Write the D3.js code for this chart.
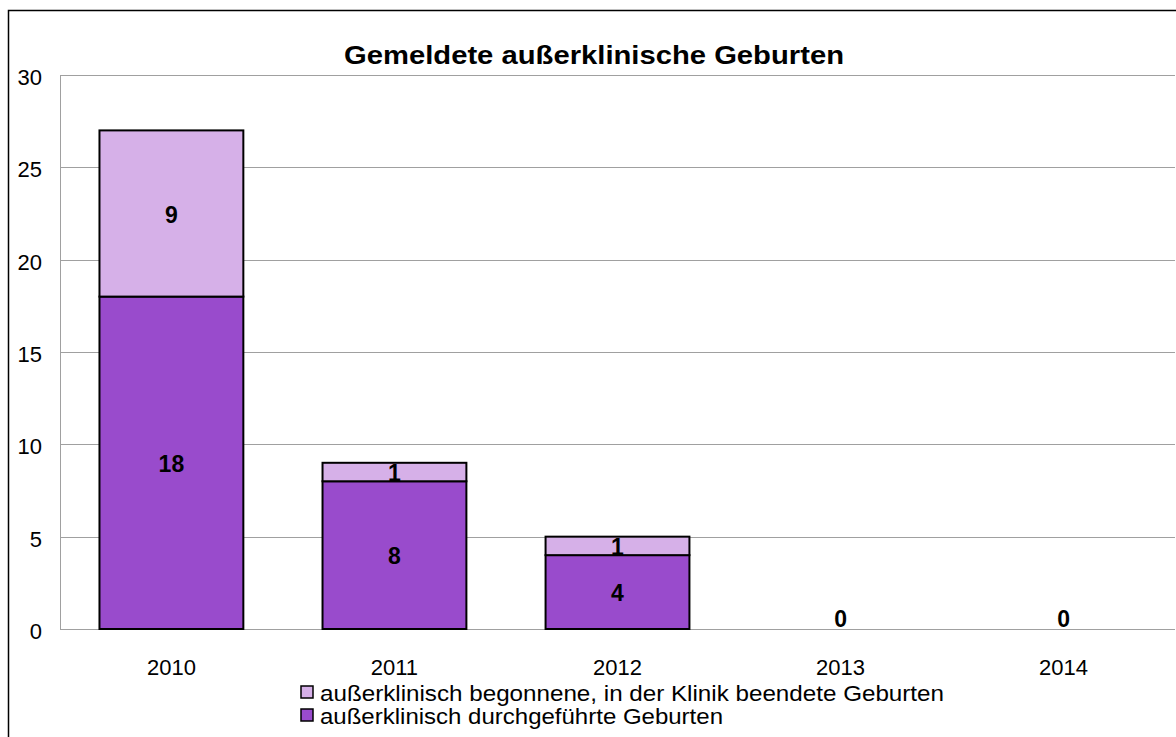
<!DOCTYPE html>
<html>
<head>
<meta charset="utf-8">
<script src="https://cdn.jsdelivr.net/npm/d3@7"></script>
<style>
  body { margin: 0; background: #fff; }
  text { font-family: "Liberation Sans", Arial, sans-serif; }
</style>
</head>
<body>
<div id="chart"></div>
<script>
// data
let years = ["2010", "2011", "2012", "2013", "2014"];
let durchgefuehrt = [18, 8, 4, 0, 0];
let begonnen = [9, 1, 1, 0, 0];
let yTicks = [0, 5, 10, 15, 20, 25, 30];
let seriesNames = [
  "außerklinisch begonnene, in der Klinik beendete Geburten",
  "außerklinisch durchgeführte Geburten"
];

let width = 1176;
let height = 737;
let plotLeft = 60;
let plotRight = 1175;
let plotTop = 75;
let plotBottom = 629;
let darkColor = "#994bcc";
let lightColor = "#d6b0e8";

let svg = d3.select("#chart")
  .append("svg")
  .attr("width", width)
  .attr("height", height);

// outer frame of the chart
svg.append("rect")
  .attr("x", 8.5).attr("y", 10.5)
  .attr("width", width + 20).attr("height", height + 20)
  .attr("fill", "none").attr("stroke", "#000").attr("stroke-width", 1.5);

let x = d3.scaleBand().domain(years).range([plotLeft, plotRight]).paddingInner(0.355).paddingOuter(0.177);
let y = d3.scaleLinear().domain([0, 30]).range([plotBottom, plotTop]);

// gridlines
svg.append("g").selectAll("line")
  .data(yTicks)
  .join("line")
  .attr("x1", plotLeft).attr("x2", plotRight)
  .attr("y1", d => Math.round(y(d)) + 0.5).attr("y2", d => Math.round(y(d)) + 0.5)
  .attr("stroke", "#a0a0a0").attr("stroke-width", 1);

svg.append("line")
  .attr("x1", plotLeft + 0.5).attr("x2", plotLeft + 0.5)
  .attr("y1", plotTop).attr("y2", plotBottom)
  .attr("stroke", "#a0a0a0");

// y tick labels
svg.append("g").selectAll("text")
  .data(yTicks)
  .join("text")
  .attr("x", 42).attr("y", d => y(d) + 10)
  .attr("text-anchor", "end")
  .attr("font-size", 22)
  .text(d => d);

// x labels
svg.append("g").selectAll("text")
  .data(years)
  .join("text")
  .attr("x", d => x(d) + x.bandwidth() / 2)
  .attr("y", 675)
  .attr("text-anchor", "middle")
  .attr("font-size", 22)
  .text(d => d);

let rows = years.map((yr, i) => ({ year: yr, low: durchgefuehrt[i], high: begonnen[i] }));

// bars: dark bottom, light top
let bars = svg.append("g");
bars.selectAll("rect.low")
  .data(rows.filter(d => d.low > 0))
  .join("rect")
  .attr("class", "low")
  .attr("x", d => x(d.year)).attr("width", x.bandwidth())
  .attr("y", d => y(d.low)).attr("height", d => y(0) - y(d.low))
  .attr("fill", darkColor).attr("stroke", "#000").attr("stroke-width", 2);

bars.selectAll("rect.high")
  .data(rows.filter(d => d.high > 0))
  .join("rect")
  .attr("class", "high")
  .attr("x", d => x(d.year)).attr("width", x.bandwidth())
  .attr("y", d => y(d.low + d.high)).attr("height", d => y(d.low) - y(d.low + d.high))
  .attr("fill", lightColor).attr("stroke", "#000").attr("stroke-width", 2);

// value labels
let labels = svg.append("g").attr("font-size", 23).attr("font-weight", "bold").attr("text-anchor", "middle");
rows.forEach(d => {
  let cx = x(d.year) + x.bandwidth() / 2;
  if (d.low > 0) {
    labels.append("text").attr("x", cx).attr("y", y(d.low / 2) + 9).text(d.low);
  } else {
    labels.append("text").attr("x", cx).attr("y", y(0) - 2).text(0);
  }
  if (d.high > 0) {
    labels.append("text").attr("x", cx).attr("y", y(d.low + d.high / 2) + 9).text(d.high);
  }
});

// title
svg.append("text")
  .attr("x", 594).attr("y", 64)
  .attr("text-anchor", "middle")
  .attr("font-size", 26).attr("font-weight", "bold")
  .attr("textLength", 500).attr("lengthAdjust", "spacingAndGlyphs")
  .text("Gemeldete außerklinische Geburten");

// legend
let legend = svg.append("g");
let legendLengths = [624, 403];
[lightColor, darkColor].forEach((c, i) => {
  legend.append("rect")
    .attr("x", 301).attr("y", 686 + i * 23)
    .attr("width", 12).attr("height", 12)
    .attr("fill", c).attr("stroke", "#000").attr("stroke-width", 1.5);
  legend.append("text")
    .attr("x", 320).attr("y", 701 + i * 23)
    .attr("font-size", 22)
    .attr("textLength", legendLengths[i]).attr("lengthAdjust", "spacingAndGlyphs")
    .text(seriesNames[i]);
});
</script>
</body>
</html>
